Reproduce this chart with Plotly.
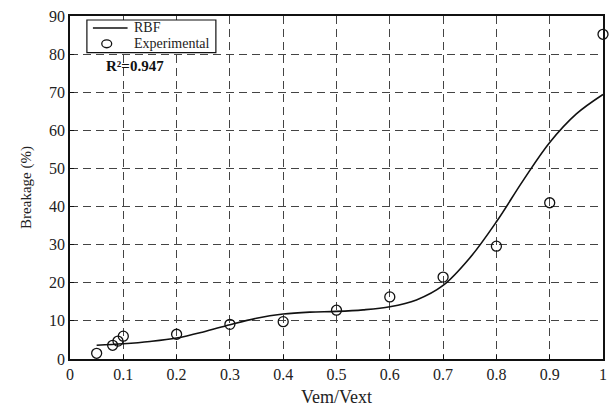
import plotly.graph_objects as go

# Experimental data
exp_x = [0.05, 0.08, 0.09, 0.1, 0.2, 0.3, 0.4, 0.5, 0.6, 0.7, 0.8, 0.9, 1.0]
exp_y = [1.5, 3.6, 4.7, 6.0, 6.5, 9.1, 9.8, 12.8, 16.3, 21.5, 29.6, 41.0, 85.2]

# RBF model curve
rbf_x = [0.05, 0.1, 0.15, 0.2, 0.25, 0.3, 0.35, 0.4, 0.45, 0.5, 0.55, 0.6,
         0.65, 0.7, 0.75, 0.8, 0.85, 0.9, 0.95, 1.0]
rbf_y = [3.6, 4.0, 4.6, 5.5, 7.1, 9.0, 10.7, 11.8, 12.3, 12.5, 12.9, 13.7,
         15.5, 19.3, 26.5, 36.0, 46.8, 56.8, 64.3, 69.4]

x_ticks = [0, 0.1, 0.2, 0.3, 0.4, 0.5, 0.6, 0.7, 0.8, 0.9, 1]
x_labels = ["0", "0.1", "0.2", "0.3", "0.4", "0.5", "0.6", "0.7", "0.8", "0.9", "1"]
y_ticks = [0, 10, 20, 30, 40, 50, 60, 70, 80, 90]
legend_labels = ["RBF", "Experimental"]

font_family = "Liberation Serif, Times New Roman, serif"
ink = "#111111"
txt = "#222222"

fig = go.Figure()
fig.add_trace(go.Scatter(
    x=rbf_x, y=rbf_y, mode="lines", name=legend_labels[0],
    line=dict(color=ink, width=1.6, shape="spline", smoothing=1.0),
))
fig.add_trace(go.Scatter(
    x=exp_x, y=exp_y, mode="markers", name=legend_labels[1],
    marker=dict(symbol="circle-open", size=10, color=ink,
                line=dict(width=1.3, color=ink)),
    cliponaxis=False,
))

axis_common = dict(
    showline=True, linecolor=ink, linewidth=1.5, mirror=True,
    showgrid=True, gridcolor="#444444", gridwidth=1, griddash="8px,5px",
    zeroline=False, ticks="inside", ticklen=4, tickcolor=ink,
    tickfont=dict(family=font_family, size=16, color=txt),
)

fig.update_xaxes(
    range=[0, 1], tickvals=x_ticks, ticktext=x_labels,
    title=dict(text="Vem/Vext", font=dict(family=font_family, size=18, color=txt),
               standoff=8),
    **axis_common,
)
fig.update_yaxes(
    range=[0, 90], tickvals=y_ticks,
    title=dict(text="Breakage (%)", font=dict(family=font_family, size=15, color=txt),
               standoff=14),
    **axis_common,
)

# Hand-drawn compact legend box, as in the reference
fig.add_shape(type="rect", xref="paper", yref="paper",
              x0=0.0317, x1=0.2737, y0=0.893, y1=0.9884,
              line=dict(color=ink, width=1.2), fillcolor="white", layer="above")
fig.add_shape(type="line", xref="paper", yref="paper",
              x0=0.043, x1=0.108, y0=0.965, y1=0.965,
              line=dict(color=ink, width=1.6), layer="above")
fig.add_shape(type="circle", xref="paper", yref="paper",
              x0=0.0596, x1=0.0782, y0=0.9075, y1=0.9305,
              line=dict(color=ink, width=1.3), layer="above")
fig.add_annotation(x=0.117, y=0.966, xref="paper", yref="paper",
                   text=legend_labels[0], showarrow=False, xanchor="left", yanchor="middle",
                   font=dict(family=font_family, size=14, color=txt))
fig.add_annotation(x=0.117, y=0.919, xref="paper", yref="paper",
                   text=legend_labels[1], showarrow=False, xanchor="left", yanchor="middle",
                   font=dict(family=font_family, size=14, color=txt))

fig.add_annotation(
    x=0.063, y=76.8, xref="x", yref="y", text="<b>R²=0.947</b>", showarrow=False,
    xanchor="left", yanchor="middle",
    font=dict(family=font_family, size=15, color=ink),
)

fig.update_layout(
    width=615, height=412,
    margin=dict(l=70, r=8, t=16, b=50),
    paper_bgcolor="white", plot_bgcolor="white",
    showlegend=False,
    font=dict(family=font_family),
)

fig.write_html("out.html")
